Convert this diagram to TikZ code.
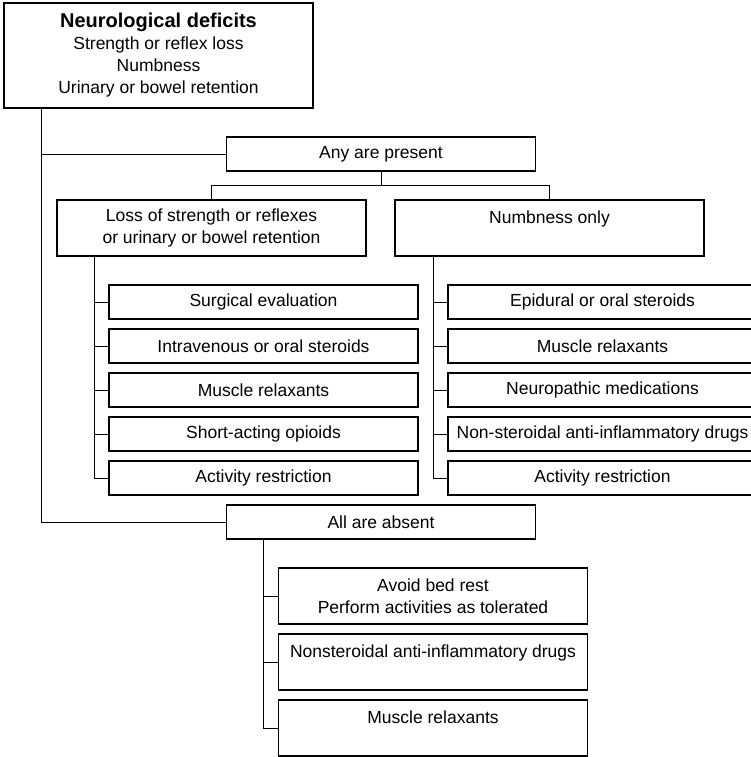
\documentclass[tikz,border=0pt]{standalone}
\usepackage{fontspec}
\setmainfont{Liberation Sans}
\tikzset{%
	block/.style = {draw, line width=1.1pt, rectangle, minimum width=309pt,
		minimum height=34pt, inner sep=0pt, align=center,
		font=\fontsize{17.5}{22}\selectfont}, % one-line box
	tall/.style  = {block, minimum height=56pt}, % two-line box
	branch/.style = {coordinate} % connector start
}
\begin{document}
\begin{tikzpicture}[x=1pt,y=-1pt,line width=1pt]
	\useasboundingbox (0,0) rectangle (751,757);
	
	\node[block, minimum height=105pt] at (158.5,55.5) (deficits) {{\fontsize{20}{24}\selectfont\bfseries Neurological deficits}\\Strength or reflex loss\\Numbness\\Urinary or bowel retention};
	\node[block] at (381,154) (present) {Any are present};
	\node[tall] at (211.5,228) (loss) {Loss of strength or reflexes\\or urinary or bowel retention};
	\node[tall] at (549.5,228) (numb) {Numbness only\\\mbox{}};
	
	\node[block] at (263.5,302) (surgery) {Surgical evaluation};
	\node[block] at (263.5,346) (ivsteroid) {Intravenous or oral steroids};
	\node[block] at (263.5,390) (lrelax) {Muscle relaxants};
	\node[block] at (263.5,434) (opioid) {Short-acting opioids};
	\node[block] at (263.5,478) (lrest) {Activity restriction};
	
	\node[block] at (602.5,302) (epidural) {Epidural or oral steroids};
	\node[block] at (602.5,346) (rrelax) {Muscle relaxants};
	\node[block] at (602.5,390) (neuro) {Neuropathic medications};
	\node[block] at (602.5,434) (nsaid) {Non-steroidal anti-inflammatory drugs};
	\node[block] at (602.5,478) (rrest) {Activity restriction};
	
	\node[block] at (381,522) (absent) {All are absent};
	\node[tall] at (433,596) (bedrest) {Avoid bed rest\\Perform activities as tolerated};
	\node[tall] at (433,662) (antiinfl) {Nonsteroidal anti-inflammatory drugs\\\mbox{}};
	\node[tall] at (433,728) (brelax) {Muscle relaxants\\\mbox{}};
	
	\node[branch] at ([xshift=38pt]deficits.south west) (spine) {};
	\node[branch] at ([yshift=-14pt]present.south) (split) {};
	\node[branch] at ([xshift=38pt]loss.south west) (lspine) {};
	\node[branch] at ([xshift=39pt]numb.south west) (rspine) {};
	\node[branch] at ([xshift=38pt]absent.south west) (aspine) {};
	
	\draw (spine) |- (present.west);
	\draw (spine) |- (absent.west);
	\draw (present.south) -- (split);
	\draw (split) -| (loss.north);
	\draw (split) -| (numb.north);
	\foreach \n in {surgery,ivsteroid,lrelax,opioid,lrest}
		\draw (lspine) |- (\n.west);
	\foreach \n in {epidural,rrelax,neuro,nsaid,rrest}
		\draw (rspine) |- (\n.west);
	\foreach \n in {bedrest,antiinfl,brelax}
		\draw (aspine) |- (\n.west);
	
\end{tikzpicture}
\end{document}
